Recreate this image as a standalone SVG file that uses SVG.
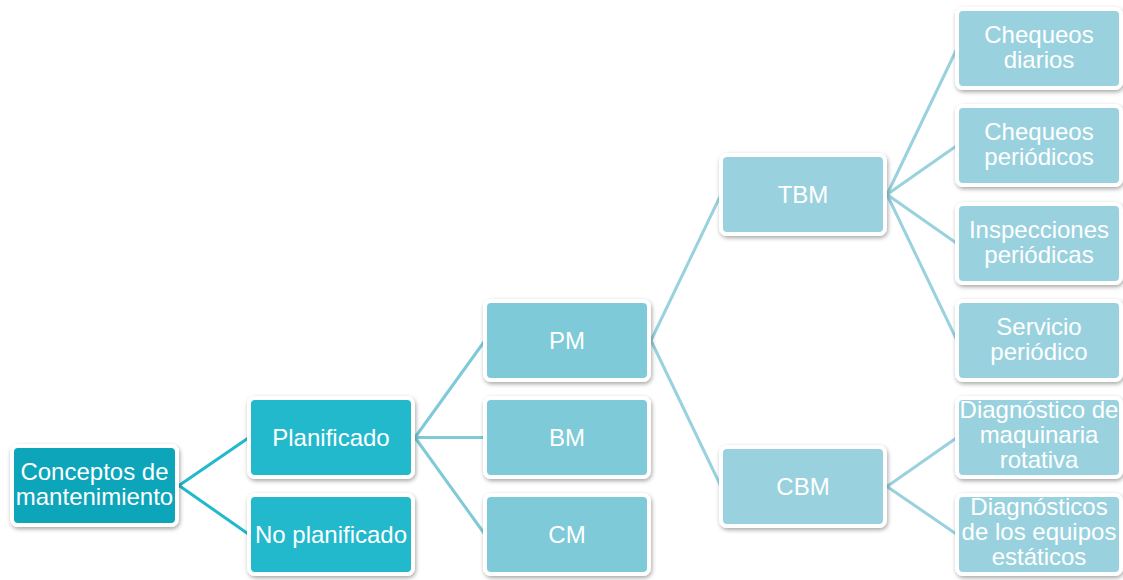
<svg xmlns="http://www.w3.org/2000/svg" width="1123" height="580" viewBox="0 0 1123 580">
  <defs>
    <filter id="shadow" x="-10%" y="-10%" width="120%" height="130%">
      <feDropShadow dx="1" dy="2" stdDeviation="2" flood-color="#000" flood-opacity="0.35"/>
    </filter>
  </defs>
  <style>
    .box { stroke: #ffffff; stroke-width: 4; filter: url(#shadow); }
    .lvl0 { fill: #0fa5b9; }
    .lvl1 { fill: #20b9cd; }
    .lvl2 { fill: #7ecad8; }
    .lvl3 { fill: #99d2de; }
    .label { font-family: "Liberation Sans", Arial, sans-serif; font-size: 24px; fill: #ffffff; text-anchor: middle; }
    .edge { fill: none; stroke-width: 3; }
    .e1 { stroke: #20b9cd; }
    .e2 { stroke: #7ecad8; }
    .e3 { stroke: #99d2de; }
  </style>

  <!-- connectors, drawn beneath the boxes -->
  <g id="connectors">
    <path class="edge e1" d="M179 485.5 L249 437.5 M179 485.5 L249 534.5"/>
    <path class="edge e2" d="M415 437.5 L485 340.5 M415 437.5 L485 437.5 M415 437.5 L485 534.5"/>
    <path class="edge e3" d="M651 340.5 L721 194.5 M651 340.5 L721 486.5"/>
    <path class="edge e3" d="M887 194.5 L957 48.5 M887 194.5 L957 145.5 M887 194.5 L957 243.5 M887 194.5 L957 340.5"/>
    <path class="edge e3" d="M887 486.5 L957 437.5 M887 486.5 L957 534.5"/>
  </g>

  <!-- root -->
  <g id="node-conceptos">
    <rect class="box lvl0" x="12" y="446" width="165" height="79" rx="6"/>
    <text class="label" x="94.5" y="480">Conceptos de</text>
    <text class="label" x="94.5" y="505">mantenimiento</text>
  </g>

  <!-- level 1 -->
  <g id="node-planificado">
    <rect class="box lvl1" x="249" y="398" width="164" height="79" rx="6"/>
    <text class="label" x="331" y="446">Planificado</text>
  </g>
  <g id="node-no-planificado">
    <rect class="box lvl1" x="249" y="495" width="164" height="79" rx="6"/>
    <text class="label" x="331" y="543">No planificado</text>
  </g>

  <!-- level 2 -->
  <g id="node-pm">
    <rect class="box lvl2" x="485" y="301" width="164" height="79" rx="6"/>
    <text class="label" x="567" y="349">PM</text>
  </g>
  <g id="node-bm">
    <rect class="box lvl2" x="485" y="398" width="164" height="79" rx="6"/>
    <text class="label" x="567" y="446">BM</text>
  </g>
  <g id="node-cm">
    <rect class="box lvl2" x="485" y="495" width="164" height="79" rx="6"/>
    <text class="label" x="567" y="543">CM</text>
  </g>

  <!-- level 3 -->
  <g id="node-tbm">
    <rect class="box lvl3" x="721" y="155" width="164" height="79" rx="6"/>
    <text class="label" x="803" y="203">TBM</text>
  </g>
  <g id="node-cbm">
    <rect class="box lvl3" x="721" y="447" width="164" height="79" rx="6"/>
    <text class="label" x="803" y="495">CBM</text>
  </g>

  <!-- level 4 -->
  <g id="node-chequeos-diarios">
    <rect class="box lvl3" x="957" y="9" width="164" height="79" rx="6"/>
    <text class="label" x="1039" y="43">Chequeos</text>
    <text class="label" x="1039" y="68">diarios</text>
  </g>
  <g id="node-chequeos-periodicos">
    <rect class="box lvl3" x="957" y="106" width="164" height="79" rx="6"/>
    <text class="label" x="1039" y="140">Chequeos</text>
    <text class="label" x="1039" y="165">periódicos</text>
  </g>
  <g id="node-inspecciones">
    <rect class="box lvl3" x="957" y="204" width="164" height="79" rx="6"/>
    <text class="label" x="1039" y="238">Inspecciones</text>
    <text class="label" x="1039" y="263">periódicas</text>
  </g>
  <g id="node-servicio">
    <rect class="box lvl3" x="957" y="301" width="164" height="79" rx="6"/>
    <text class="label" x="1039" y="335">Servicio</text>
    <text class="label" x="1039" y="360">periódico</text>
  </g>
  <g id="node-diag-rotativa">
    <rect class="box lvl3" x="957" y="398" width="164" height="79" rx="6"/>
    <text class="label" x="1039" y="418">Diagnóstico de</text>
    <text class="label" x="1039" y="443">maquinaria</text>
    <text class="label" x="1039" y="468">rotativa</text>
  </g>
  <g id="node-diag-estaticos">
    <rect class="box lvl3" x="957" y="495" width="164" height="79" rx="6"/>
    <text class="label" x="1039" y="515">Diagnósticos</text>
    <text class="label" x="1039" y="540">de los equipos</text>
    <text class="label" x="1039" y="565">estáticos</text>
  </g>
</svg>
